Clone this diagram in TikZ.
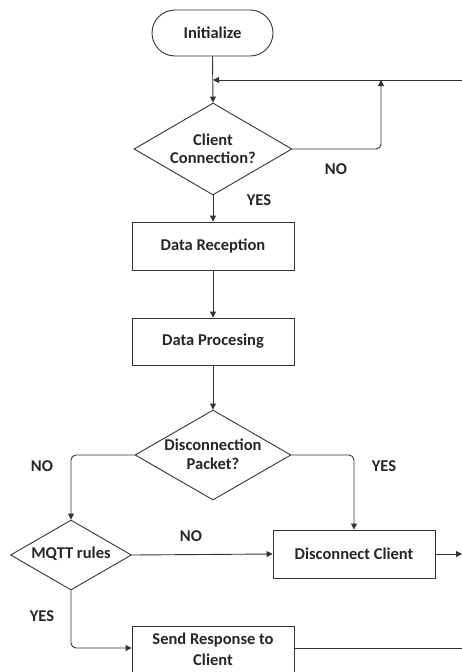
\documentclass[tikz,border=0pt]{standalone}
\usepackage{fontspec}
\setmainfont{Carlito}
\usetikzlibrary{shapes.geometric,arrows.meta}
\begin{document}
\begin{tikzpicture}[x=1pt,y=-1pt,
  every node/.style={font=\bfseries\fontsize{16.5}{20}\selectfont, text=black!85},
  line/.style={draw=black!80, line width=0.9pt},
  arr/.style={line, -{Triangle[length=6pt,width=6pt]}},
  term/.style={draw=black!80, line width=0.9pt, rounded corners=23pt, minimum width=121pt, minimum height=46pt, inner sep=0pt},
  proc/.style={draw=black!80, line width=0.9pt, minimum width=162pt, minimum height=48pt, inner sep=0pt, align=center},
  dec/.style={draw=black!80, line width=0.9pt, diamond, inner sep=0pt},
  txt/.style={inner sep=0pt, align=center}
]
\useasboundingbox (0,0) rectangle (462,672);
\clip (0,0) rectangle (462,672);
\node[term] (init) at (212.5,33) {Initialize};
\node[dec, minimum width=158pt, minimum height=92pt] (cc) at (213,149) {};
\node[txt] (cct) at (213,149) {Client\\[-2pt]Connection?};
\node[proc] (dr) at (213,246) {Data Reception};
\node[proc, minimum height=47pt] (dp) at (213,341.5) {Data Procesing};
\node[dec, minimum width=156pt, minimum height=90pt] (dpk) at (213,455) {};
\node[txt] (dpkt) at (213,454) {Disconnection\\[-1pt]Packet?};
\node[dec, minimum width=121pt, minimum height=70pt] (mq) at (71,555) {};
\node[txt] (mqt) at (71,554) {MQTT rules};
\node[proc] (dc) at (354,554) {Disconnect Client};
\node[proc, minimum height=48pt] (sr) at (213,650) {};
\node[txt] (sr1) at (213,640) {Send Response to};
\node[txt] (sr2) at (213,660) {Client};

\coordinate (j1) at (213,80);
\coordinate (rin) at (462,80);
\coordinate (up) at (381,80);
\coordinate (rout) at (462,554);
\coordinate (rs) at (462,648);

\draw[arr] (init.south) -- (cc.north);
\draw[arr] (rin) -- (j1);
\draw[arr, rounded corners=5pt] (cc.east) -| (up);
\draw[arr] (cc.south) -- (dr.north);
\draw[arr] (dr.south) -- (dp.north);
\draw[arr] (dp.south) -- (dpk.north);
\draw[arr, rounded corners=5pt] (dpk.west) -| (mq.north);
\draw[arr, rounded corners=5pt] (dpk.east) -| (dc.north);
\draw[arr] (mq.east) -- (dc.west);
\draw[arr] (dc.east) -- (rout);
\draw[arr, rounded corners=5pt] (mq.south) |- (sr.west |- 0,648);
\draw[line] (sr.east |- 0,648) -- (rs);

\node[txt] at (336,169) {NO};
\node[txt] at (259,200) {YES};
\node[txt] at (42,466) {NO};
\node[txt] at (384,466) {YES};
\node[txt] at (191,536) {NO};
\node[txt] at (42,616) {YES};
\end{tikzpicture}
\end{document}
